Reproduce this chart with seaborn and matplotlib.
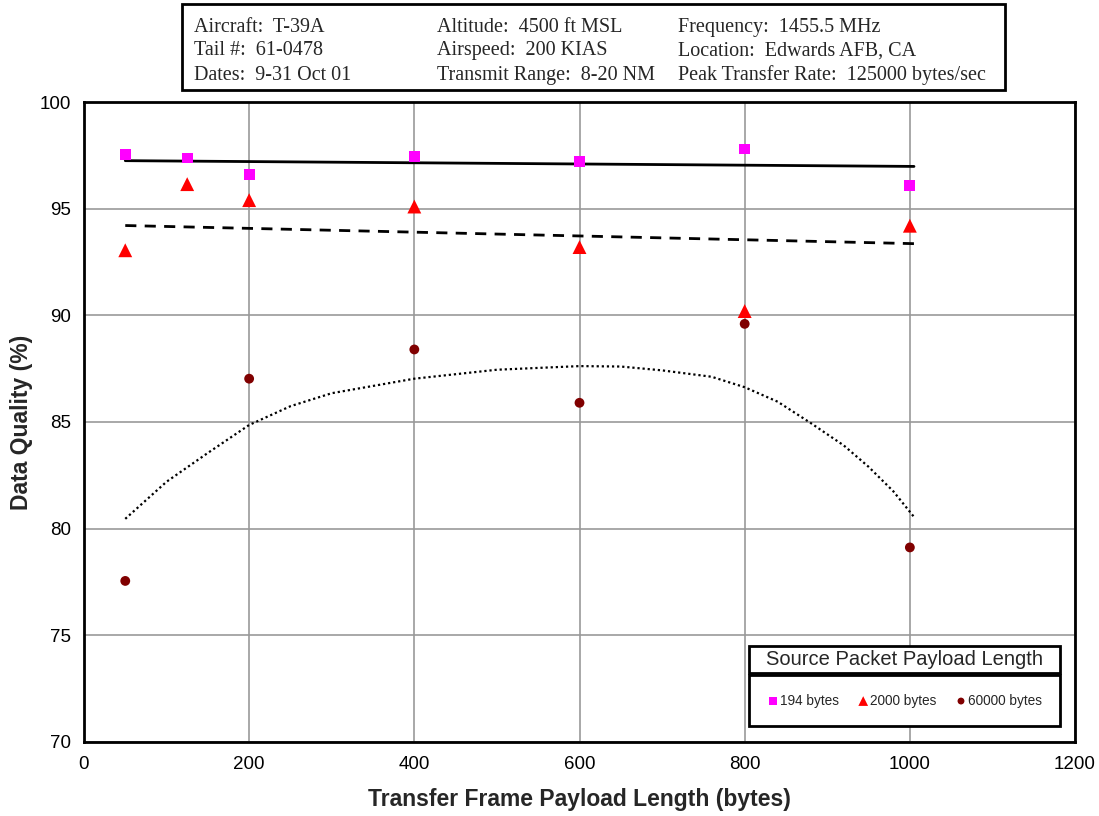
"""
Data quality vs transfer frame payload length (T-39A flight test)
"""

import numpy as np
import pandas as pd
import matplotlib
matplotlib.use("Agg")
import matplotlib.pyplot as plt
from matplotlib.patches import Rectangle
import seaborn as sns

sns.set_style("white")
plt.rcParams['font.family'] = ['Liberation Sans', 'DejaVu Sans']

# ----------------------------------------------------------------------------
# Data
# ----------------------------------------------------------------------------
frame_len_194 = [50, 125, 200, 400, 600, 800, 1000]
quality_194 = [97.55, 97.37, 96.6, 97.45, 97.2, 97.8, 96.1]

frame_len_2000 = [50, 125, 200, 400, 600, 800, 1000]
quality_2000 = [93.05, 96.15, 95.4, 95.1, 93.2, 90.2, 94.2]

frame_len_60000 = [50, 200, 400, 600, 800, 1000]
quality_60000 = [77.55, 87.03, 88.4, 85.9, 89.6, 79.12]

# trendlines as drawn in the original
trend_x_194 = [50, 1005]
trend_y_194 = [97.25, 96.98]
trend_x_2000 = [50, 1005]
trend_y_2000 = [94.21, 93.36]
trend_x_60000 = [50, 100, 150, 200, 250, 300, 400, 500, 600, 650, 700,
                 760, 800, 840, 880, 920, 950, 980, 1005]
trend_y_60000 = [80.46, 82.2, 83.55, 84.86, 85.74, 86.35, 87.03, 87.45, 87.62,
                 87.6, 87.42, 87.12, 86.63, 85.95, 84.95, 83.9, 82.9, 81.75, 80.55]

header_rows = [
    ["Aircraft:  T-39A", "Altitude:  4500 ft MSL", "Frequency:  1455.5 MHz"],
    ["Tail #:  61-0478", "Airspeed:  200 KIAS", "Location:  Edwards AFB, CA"],
    ["Dates:  9-31 Oct 01", "Transmit Range:  8-20 NM", "Peak Transfer Rate:  125000 bytes/sec"],
]

df = pd.concat([
    pd.DataFrame({'frame': frame_len_194, 'quality': quality_194, 'packet': '194 bytes'}),
    pd.DataFrame({'frame': frame_len_2000, 'quality': quality_2000, 'packet': '2000 bytes'}),
    pd.DataFrame({'frame': frame_len_60000, 'quality': quality_60000, 'packet': '60000 bytes'}),
])

palette = {'194 bytes': '#FF00FF', '2000 bytes': '#FF0000', '60000 bytes': '#800000'}
markers = {'194 bytes': 's', '2000 bytes': '^', '60000 bytes': 'o'}
sizes = {'194 bytes': 60, '2000 bytes': 100, '60000 bytes': 50}

# ----------------------------------------------------------------------------
# Figure
# ----------------------------------------------------------------------------
fig = plt.figure(figsize=(10.99, 8.16), dpi=100)
ax = fig.add_axes([0.0764, 0.0907, 0.9018, 0.7843])

ax.grid(True, color='#999999', linewidth=1.2)
ax.set_axisbelow(True)

# trendlines
ax.plot(trend_x_194, trend_y_194, color='black', lw=2, zorder=2)
ax.plot(trend_x_2000, trend_y_2000, color='black', lw=2, ls=(0, (4, 3)), zorder=2)
ax.plot(trend_x_60000, trend_y_60000, color='black', lw=1.6, ls=(0, (1, 1.3)), zorder=2)

for name, grp in df.groupby('packet', sort=False):
    sns.scatterplot(data=grp, x='frame', y='quality', ax=ax, color=palette[name],
                    marker=markers[name], s=sizes[name], edgecolor='none',
                    label=name, zorder=3)

ax.set_xlim(0, 1200)
ax.set_ylim(70, 100)
ax.set_xticks(np.arange(0, 1201, 200))
ax.set_yticks(np.arange(70, 101, 5))
ax.tick_params(axis='both', direction='out', length=5, width=1.5, colors='black',
               labelsize=13.5, pad=4)
ax.tick_params(axis='x', pad=5)
for sp in ax.spines.values():
    sp.set_visible(True)
    sp.set_color('black')
    sp.set_linewidth(2)

ax.set_xlabel('Transfer Frame Payload Length (bytes)', fontsize=16.5, fontweight='bold', labelpad=11)
ax.set_ylabel('Data Quality (%)', fontsize=16.5, fontweight='bold', labelpad=5)

# legend: entries box + separate title box
leg = ax.legend(loc='lower left', bbox_to_anchor=(0.671, 0.025, 0.314, 0.078),
                mode='expand', ncol=3, fontsize=9.8, frameon=True, fancybox=False,
                borderaxespad=0, handletextpad=0.1, columnspacing=0.5,
                handlelength=0.8, markerscale=0.7, borderpad=1.35)
leg.get_frame().set_edgecolor('black')
leg.get_frame().set_linewidth(2)
leg.get_frame().set_alpha(1)

ax.add_patch(Rectangle((0.671, 0.108), 0.314, 0.042, transform=ax.transAxes,
                       facecolor='white', edgecolor='black', lw=2, zorder=6,
                       clip_on=False))
ax.text(0.671 + 0.157, 0.129, 'Source Packet Payload Length', transform=ax.transAxes,
        ha='center', va='center', fontsize=14.5, zorder=7)

# header box with test conditions
fig.patches.append(Rectangle((0.1656, 0.8897), 0.7489, 0.1054, transform=fig.transFigure,
                             facecolor='white', edgecolor='black', lw=2, figure=fig))
col_x = [0.1765, 0.3976, 0.6169]
row_y = [0.9665, 0.9380, 0.9080]
for r, row in enumerate(header_rows):
    for c, txt in enumerate(row):
        fig.text(col_x[c], row_y[r], txt, ha='left', va='center', fontsize=14.5,
                 family=['Liberation Serif', 'DejaVu Serif'])

plt.savefig('out.png', dpi=100)
